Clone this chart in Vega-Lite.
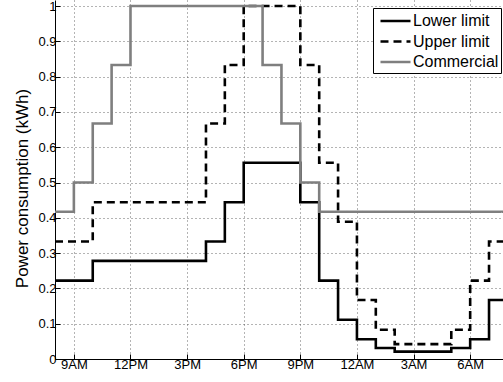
{
  "$schema": "https://vega.github.io/schema/vega-lite/v6.json",
  "autosize": "none",
  "padding": {"left": 55, "top": 0, "right": 0, "bottom": 23},
  "width": 448,
  "height": 359,
  "background": "white",
  "config": {
    "view": {"stroke": null},
    "font": "Liberation Sans",
    "axis": {
      "domainColor": "black",
      "domainWidth": 1,
      "tickColor": "black",
      "tickSize": -5,
      "labelColor": "black",
      "labelFont": "Liberation Sans",
      "labelFontSize": 13,
      "titleColor": "black",
      "titleFont": "Liberation Sans",
      "titleFontWeight": "normal",
      "grid": true,
      "gridColor": "#444444",
      "gridDash": [1, 3],
      "gridWidth": 1,
      "gridOpacity": 0.8
    }
  },
  "data": {
    "values": [
      {"hour": 8, "kwh": 0.222, "series": "Lower limit"},
      {"hour": 9, "kwh": 0.222, "series": "Lower limit"},
      {"hour": 10, "kwh": 0.278, "series": "Lower limit"},
      {"hour": 11, "kwh": 0.278, "series": "Lower limit"},
      {"hour": 12, "kwh": 0.278, "series": "Lower limit"},
      {"hour": 13, "kwh": 0.278, "series": "Lower limit"},
      {"hour": 14, "kwh": 0.278, "series": "Lower limit"},
      {"hour": 15, "kwh": 0.278, "series": "Lower limit"},
      {"hour": 16, "kwh": 0.333, "series": "Lower limit"},
      {"hour": 17, "kwh": 0.444, "series": "Lower limit"},
      {"hour": 18, "kwh": 0.556, "series": "Lower limit"},
      {"hour": 19, "kwh": 0.556, "series": "Lower limit"},
      {"hour": 20, "kwh": 0.556, "series": "Lower limit"},
      {"hour": 21, "kwh": 0.444, "series": "Lower limit"},
      {"hour": 22, "kwh": 0.222, "series": "Lower limit"},
      {"hour": 23, "kwh": 0.111, "series": "Lower limit"},
      {"hour": 24, "kwh": 0.056, "series": "Lower limit"},
      {"hour": 25, "kwh": 0.031, "series": "Lower limit"},
      {"hour": 26, "kwh": 0.021, "series": "Lower limit"},
      {"hour": 27, "kwh": 0.021, "series": "Lower limit"},
      {"hour": 28, "kwh": 0.021, "series": "Lower limit"},
      {"hour": 29, "kwh": 0.031, "series": "Lower limit"},
      {"hour": 30, "kwh": 0.056, "series": "Lower limit"},
      {"hour": 31, "kwh": 0.167, "series": "Lower limit"},
      {"hour": 32, "kwh": 0.167, "series": "Lower limit"},

      {"hour": 8, "kwh": 0.333, "series": "Upper limit"},
      {"hour": 9, "kwh": 0.333, "series": "Upper limit"},
      {"hour": 10, "kwh": 0.444, "series": "Upper limit"},
      {"hour": 11, "kwh": 0.444, "series": "Upper limit"},
      {"hour": 12, "kwh": 0.444, "series": "Upper limit"},
      {"hour": 13, "kwh": 0.444, "series": "Upper limit"},
      {"hour": 14, "kwh": 0.444, "series": "Upper limit"},
      {"hour": 15, "kwh": 0.444, "series": "Upper limit"},
      {"hour": 16, "kwh": 0.667, "series": "Upper limit"},
      {"hour": 17, "kwh": 0.833, "series": "Upper limit"},
      {"hour": 18, "kwh": 1.0, "series": "Upper limit"},
      {"hour": 19, "kwh": 1.0, "series": "Upper limit"},
      {"hour": 20, "kwh": 1.0, "series": "Upper limit"},
      {"hour": 21, "kwh": 0.833, "series": "Upper limit"},
      {"hour": 22, "kwh": 0.556, "series": "Upper limit"},
      {"hour": 23, "kwh": 0.389, "series": "Upper limit"},
      {"hour": 24, "kwh": 0.167, "series": "Upper limit"},
      {"hour": 25, "kwh": 0.083, "series": "Upper limit"},
      {"hour": 26, "kwh": 0.042, "series": "Upper limit"},
      {"hour": 27, "kwh": 0.042, "series": "Upper limit"},
      {"hour": 28, "kwh": 0.042, "series": "Upper limit"},
      {"hour": 29, "kwh": 0.083, "series": "Upper limit"},
      {"hour": 30, "kwh": 0.222, "series": "Upper limit"},
      {"hour": 31, "kwh": 0.333, "series": "Upper limit"},
      {"hour": 32, "kwh": 0.333, "series": "Upper limit"},

      {"hour": 8, "kwh": 0.417, "series": "Commercial"},
      {"hour": 9, "kwh": 0.5, "series": "Commercial"},
      {"hour": 10, "kwh": 0.667, "series": "Commercial"},
      {"hour": 11, "kwh": 0.833, "series": "Commercial"},
      {"hour": 12, "kwh": 1.0, "series": "Commercial"},
      {"hour": 13, "kwh": 1.0, "series": "Commercial"},
      {"hour": 14, "kwh": 1.0, "series": "Commercial"},
      {"hour": 15, "kwh": 1.0, "series": "Commercial"},
      {"hour": 16, "kwh": 1.0, "series": "Commercial"},
      {"hour": 17, "kwh": 1.0, "series": "Commercial"},
      {"hour": 18, "kwh": 1.0, "series": "Commercial"},
      {"hour": 19, "kwh": 0.833, "series": "Commercial"},
      {"hour": 20, "kwh": 0.667, "series": "Commercial"},
      {"hour": 21, "kwh": 0.5, "series": "Commercial"},
      {"hour": 22, "kwh": 0.417, "series": "Commercial"},
      {"hour": 23, "kwh": 0.417, "series": "Commercial"},
      {"hour": 24, "kwh": 0.417, "series": "Commercial"},
      {"hour": 25, "kwh": 0.417, "series": "Commercial"},
      {"hour": 26, "kwh": 0.417, "series": "Commercial"},
      {"hour": 27, "kwh": 0.417, "series": "Commercial"},
      {"hour": 28, "kwh": 0.417, "series": "Commercial"},
      {"hour": 29, "kwh": 0.417, "series": "Commercial"},
      {"hour": 30, "kwh": 0.417, "series": "Commercial"},
      {"hour": 31, "kwh": 0.417, "series": "Commercial"},
      {"hour": 32, "kwh": 0.417, "series": "Commercial"}
    ]
  },
  "mark": {"type": "line", "interpolate": "step-after", "strokeWidth": 2.6, "clip": true},
  "encoding": {
    "x": {
      "field": "hour",
      "type": "quantitative",
      "scale": {"domain": [8, 31.74], "nice": false, "zero": false},
      "axis": {
        "title": null,
        "values": [9, 12, 15, 18, 21, 24, 27, 30],
        "labelPadding": 4,
        "labelExpr": "(datum.value % 12 == 0 ? '12' : '' + (datum.value % 12)) + (datum.value % 24 < 12 ? 'AM' : 'PM')"
      }
    },
    "y": {
      "field": "kwh",
      "type": "quantitative",
      "scale": {"domain": [0, 1.017], "nice": false},
      "axis": {
        "title": "Power consumption (kWh)",
        "titleFontSize": 17,
        "titlePadding": 6,
        "titleY": 188,
        "values": [0, 0.1, 0.2, 0.3, 0.4, 0.5, 0.6, 0.7, 0.8, 0.9, 1],
        "format": ".1~f",
        "labelPadding": 4
      }
    },
    "color": {
      "field": "series",
      "type": "nominal",
      "sort": ["Lower limit", "Upper limit", "Commercial"],
      "scale": {"domain": ["Lower limit", "Upper limit", "Commercial"], "range": ["#000000", "#000000", "#7f7f7f"]},
      "legend": {
        "title": null,
        "orient": "none",
        "legendX": 318,
        "legendY": 8,
        "symbolType": "M-1.667,0H1.667",
        "symbolSize": 324,
        "symbolStrokeWidth": 2.6,
        "symbolOffset": 9.5,
        "labelFont": "Liberation Sans",
        "labelFontSize": 16,
        "labelColor": "black",
        "labelOffset": 7,
        "strokeColor": "black",
        "fillColor": "white",
        "padding": 2.5,
        "rowPadding": 1.5
      }
    },
    "strokeDash": {
      "field": "series",
      "type": "nominal",
      "sort": ["Lower limit", "Upper limit", "Commercial"],
      "scale": {"domain": ["Lower limit", "Upper limit", "Commercial"], "range": [[1, 0], [8, 5], [1, 0]]},
      "legend": null
    }
  }
}
